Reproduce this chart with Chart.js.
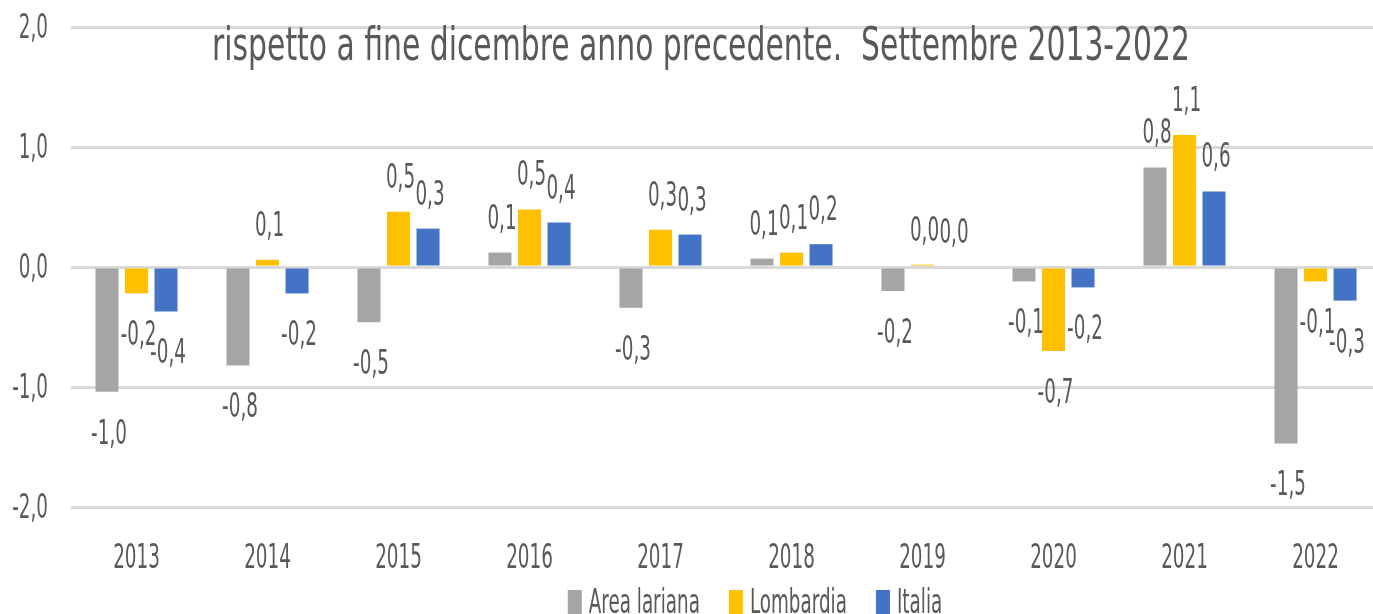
<!DOCTYPE html>
<html>
<head>
<meta charset="utf-8">
<script src="https://cdn.jsdelivr.net/npm/chart.js@4.4.0/dist/chart.umd.min.js"></script>
<style>
    html, body { margin: 0; padding: 0; background: #fff; overflow: hidden; }
    #wrap { width: 1381px; height: 614px; }
</style>
</head>
<body>
<div id="wrap"><canvas id="chart"></canvas></div>
<script>
const years = ["2013", "2014", "2015", "2016", "2017", "2018", "2019", "2020", "2021", "2022"];
const areaLariana = [-1.04, -0.82, -0.46, 0.12, -0.34, 0.07, -0.2, -0.12, 0.83, -1.47];
const lombardia = [-0.22, 0.06, 0.46, 0.48, 0.31, 0.12, 0.02, -0.7, 1.1, -0.12];
const italia = [-0.37, -0.22, 0.32, 0.37, 0.27, 0.19, 0.0, -0.17, 0.63, -0.28];
const yTicks = [-2, -1, 0, 1, 2];
const titleText = "rispetto a fine dicembre anno precedente.  Settembre 2013-2022";

const FONT = "'DejaVu Sans Condensed', 'DejaVu Sans', sans-serif";
const TEXT = "#595959";
const SX = 0.6; // the picture's text is tall and narrow

function fmt(v) {
    return v.toFixed(1).replace(".", ",");
}

// text squeezed horizontally to get the tall narrow look of the original
function drawText(ctx, text, x, y, align, sx) {
    ctx.save();
    ctx.translate(x, y);
    ctx.scale(sx || SX, 1);
    ctx.textAlign = align;
    ctx.textBaseline = "alphabetic";
    ctx.fillText(text, 0, 0);
    ctx.restore();
}

const textPlugin = {
    id: "textLayer",
    afterDraw(chart) {
        const ctx = chart.ctx;
        const xs = chart.scales.x;
        const ys = chart.scales.y;
        ctx.save();
        ctx.fillStyle = TEXT;

        // title (second line only, the first one is outside the picture)
        ctx.font = "46px " + FONT;
        const tw = ctx.measureText(titleText).width;
        drawText(ctx, titleText, 212, 60, "left", 978 / tw);

        ctx.font = "34px " + FONT;

        // y axis labels
        yTicks.forEach((v) => {
            drawText(ctx, fmt(v), 48, ys.getPixelForValue(v) + 11, "right");
        });

        // x axis labels
        years.forEach((y, i) => {
            drawText(ctx, y, xs.getPixelForValue(i), 568, "center");
        });

        // value labels
        chart.data.datasets.forEach((ds, i) => {
            chart.getDatasetMeta(i).data.forEach((bar, j) => {
                const v = ds.data[j];
                const y = v >= 0 ? bar.y - 36 + 12 : bar.y + 40 + 12;
                drawText(ctx, fmt(v), bar.x + 2, y, "center");
            });
        });

        // legend, partly cut by the bottom edge like the original
        const items = chart.data.datasets.map((ds) => ({
            label: ds.label,
            color: ds.backgroundColor,
            w: 15 + 6 + ctx.measureText(ds.label).width * SX,
        }));
        const gap = 29;
        const total = items.reduce((s, it) => s + it.w, 0) + gap * (items.length - 1);
        let lx = 755 - total / 2;
        items.forEach((it) => {
            ctx.fillStyle = it.color;
            ctx.fillRect(lx, 590, 14, 24);
            ctx.fillStyle = TEXT;
            drawText(ctx, it.label, lx + 21, 613, "left");
            lx += it.w + gap;
        });

        ctx.restore();
    },
};

new Chart(document.getElementById("chart"), {
    type: "bar",
    data: {
        labels: years,
        datasets: [
            { label: "Area lariana", data: areaLariana, backgroundColor: "#a5a5a5" },
            { label: "Lombardia", data: lombardia, backgroundColor: "#ffc000" },
            { label: "Italia", data: italia, backgroundColor: "#4472c4" },
        ],
    },
    options: {
        responsive: true,
        maintainAspectRatio: false,
        animation: false,
        layout: { padding: { top: 27, left: 0, right: 0, bottom: 107 } },
        datasets: {
            bar: { categoryPercentage: 0.676, barPercentage: 0.78, borderWidth: 0 },
        },
        scales: {
            x: {
                grid: { display: false },
                border: { display: false },
                ticks: { display: false },
                afterFit(scale) {
                    scale.height = 0;
                },
            },
            y: {
                min: -2,
                max: 2,
                afterBuildTicks(scale) {
                    scale.ticks = yTicks.map((v) => ({ value: v }));
                },
                afterFit(scale) {
                    scale.width = 71;
                },
                grid: { color: "#d9d9d9", lineWidth: 3, drawTicks: false },
                border: { display: false },
                ticks: { display: false },
            },
        },
        plugins: {
            legend: { display: false },
            tooltip: { enabled: false },
        },
    },
    plugins: [textPlugin],
});
</script>
</body>
</html>
